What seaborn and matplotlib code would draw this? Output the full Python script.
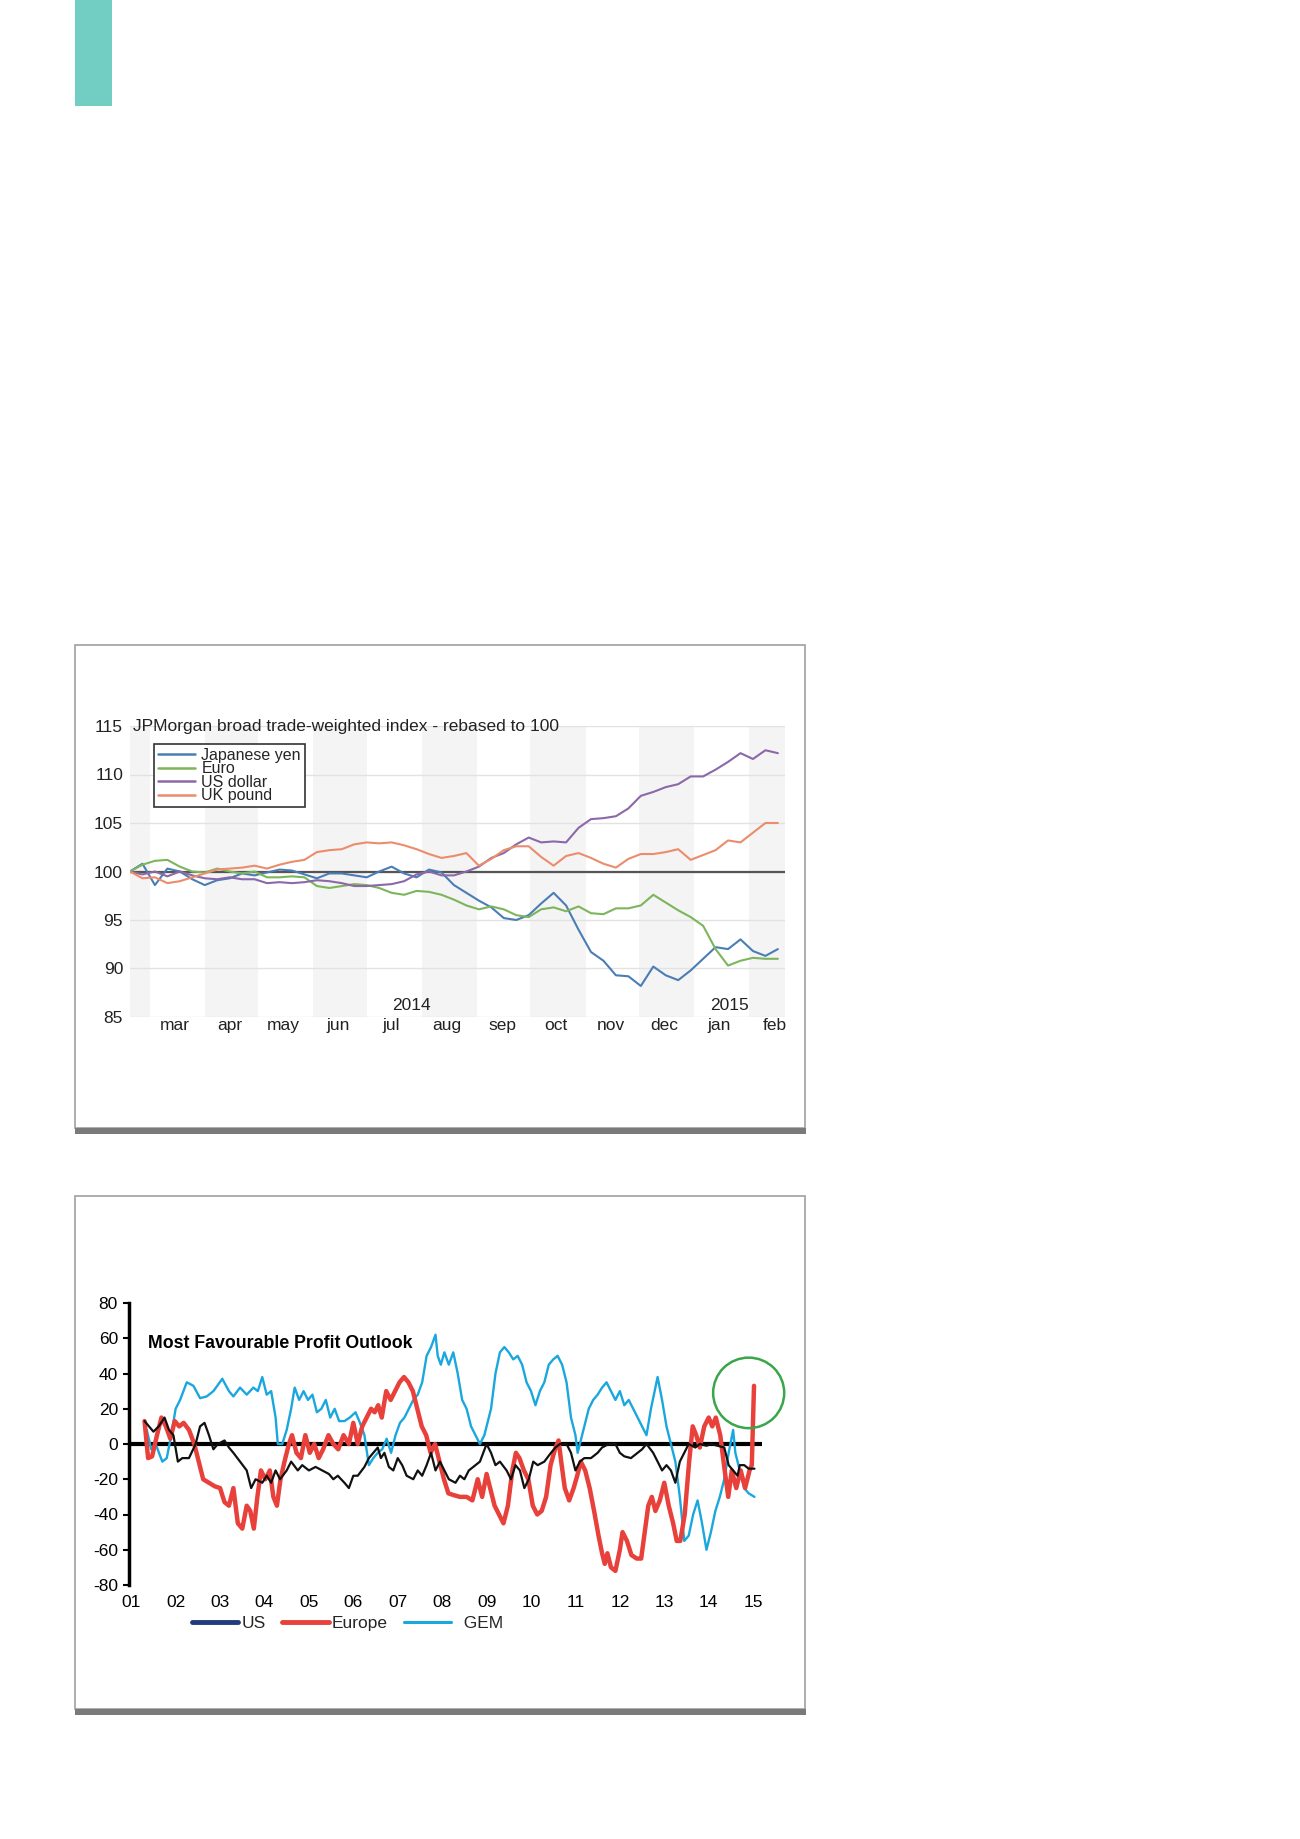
import pandas as pd
import matplotlib
matplotlib.use('Agg')
import matplotlib.pyplot as plt
import matplotlib.dates as mdates
from matplotlib.patches import Rectangle, Ellipse
from matplotlib.lines import Line2D
from matplotlib.ticker import FuncFormatter
import seaborn as sns

# ---- chart 1: JPMorgan trade-weighted indices, weekly readings ----
fx_start = '2014-02-18'
yen = [100, 100.8, 98.6, 100.3, 100, 99.2, 98.6, 99.1, 99.3, 99.8,
       99.6, 99.9, 100.2, 100.1, 99.7, 99.3, 99.8, 99.8, 99.6, 99.4,
       100, 100.5, 99.8, 99.4, 100.2, 99.9, 98.6, 97.8, 97, 96.3,
       95.2, 95, 95.5, 96.7, 97.8, 96.5, 94, 91.7, 90.8, 89.3,
       89.2, 88.2, 90.2, 89.3, 88.8, 89.8, 91, 92.2, 92, 93,
       91.8, 91.3, 92]
euro = [100, 100.7, 101.1, 101.2, 100.5, 100, 99.9, 100.3, 100, 99.8,
        100, 99.4, 99.4, 99.5, 99.4, 98.5, 98.3, 98.5, 98.7, 98.6,
        98.3, 97.8, 97.6, 98, 97.9, 97.6, 97.1, 96.5, 96.1, 96.4,
        96.1, 95.5, 95.3, 96.1, 96.3, 95.9, 96.4, 95.7, 95.6, 96.2,
        96.2, 96.5, 97.6, 96.8, 96, 95.3, 94.4, 92, 90.3, 90.8,
        91.1, 91, 91]
usd = [100, 99.7, 100, 99.5, 100, 99.6, 99.3, 99.2, 99.4, 99.2,
       99.2, 98.8, 98.9, 98.8, 98.9, 99.1, 99, 98.8, 98.5, 98.5,
       98.6, 98.7, 99, 99.7, 100, 99.6, 99.6, 100, 100.5, 101.4,
       101.9, 102.8, 103.5, 103, 103.1, 103, 104.5, 105.4, 105.5, 105.7,
       106.5, 107.8, 108.2, 108.7, 109, 109.8, 109.8, 110.5, 111.3, 112.2,
       111.6, 112.5, 112.2]
gbp = [100, 99.3, 99.4, 98.8, 99, 99.4, 99.8, 100.2, 100.3, 100.4,
       100.6, 100.3, 100.7, 101, 101.2, 102, 102.2, 102.3, 102.8, 103,
       102.9, 103, 102.7, 102.3, 101.8, 101.4, 101.6, 101.9, 100.6, 101.3,
       102.2, 102.6, 102.6, 101.5, 100.6, 101.6, 101.9, 101.4, 100.8, 100.4,
       101.3, 101.8, 101.8, 102, 102.3, 101.2, 101.7, 102.2, 103.2, 103,
       104, 105, 105]
fx_names = ['Japanese yen', 'Euro', 'US dollar', 'UK pound']
fx_colors = ['#4a7db5', '#7cb55b', '#8b68a8', '#eb8c6c']
shaded_months = ['2014-02-01', '2014-04-01', '2014-06-01', '2014-08-01',
                 '2014-10-01', '2014-12-01', '2015-02-01']
fx_yticks = [85, 90, 95, 100, 105, 110, 115]

# ---- chart 2: most favourable profit outlook (year, net %) ----
us = [(2001.30, 13), (2001.40, 10), (2001.50, 7), (2001.62, 10), (2001.75, 15),
      (2001.85, 8), (2001.95, 5), (2002.05, -10), (2002.15, -8), (2002.30, -8),
      (2002.45, 0), (2002.55, 10), (2002.65, 12), (2002.75, 5), (2002.85, -3),
      (2002.95, 0), (2003.10, 2), (2003.20, -2), (2003.30, -5), (2003.45, -10),
      (2003.60, -15), (2003.70, -25), (2003.80, -20), (2003.95, -22), (2004.05, -18),
      (2004.15, -22), (2004.25, -15), (2004.35, -20), (2004.50, -15), (2004.60, -10),
      (2004.75, -15), (2004.85, -12), (2005.00, -15), (2005.15, -13), (2005.30, -15),
      (2005.45, -17), (2005.55, -20), (2005.65, -18), (2005.80, -22), (2005.90, -25),
      (2006.00, -18), (2006.10, -18), (2006.25, -13), (2006.35, -8), (2006.45, -5),
      (2006.55, -2), (2006.62, -8), (2006.70, -5), (2006.80, -13), (2006.90, -15),
      (2007.00, -8), (2007.10, -12), (2007.20, -18), (2007.35, -20), (2007.45, -15),
      (2007.55, -18), (2007.65, -12), (2007.75, -5), (2007.85, -15), (2007.95, -10),
      (2008.05, -15), (2008.15, -20), (2008.30, -22), (2008.40, -18), (2008.50, -20),
      (2008.60, -15), (2008.75, -12), (2008.85, -10), (2009.00, 0), (2009.10, -5),
      (2009.20, -12), (2009.30, -10), (2009.45, -15), (2009.55, -20), (2009.65, -12),
      (2009.75, -15), (2009.85, -25), (2009.95, -20), (2010.05, -10), (2010.15, -12),
      (2010.30, -10), (2010.45, -5), (2010.55, -2), (2010.65, 0), (2010.80, 0),
      (2010.90, -5), (2011.00, -15), (2011.10, -10), (2011.20, -8), (2011.35, -8),
      (2011.50, -5), (2011.60, -2), (2011.75, 0), (2011.90, 0), (2012.00, -5),
      (2012.10, -7), (2012.25, -8), (2012.40, -5), (2012.50, -3), (2012.60, 0),
      (2012.75, -5), (2012.85, -10), (2012.95, -15), (2013.05, -12), (2013.15, -15),
      (2013.25, -22), (2013.35, -10), (2013.45, -5), (2013.55, 0), (2013.70, -2),
      (2013.80, 0), (2013.95, -1), (2014.05, 0), (2014.20, -1), (2014.35, -2),
      (2014.45, -12), (2014.55, -15), (2014.65, -18), (2014.70, -12), (2014.80, -12),
      (2014.90, -14), (2015.03, -14)]
europe = [(2001.30, 13), (2001.38, -8), (2001.47, -7), (2001.58, 5), (2001.68, 15),
          (2001.78, 10), (2001.88, 3), (2001.98, 13), (2002.08, 10), (2002.18, 12),
          (2002.30, 8), (2002.42, 0), (2002.52, -10), (2002.62, -20), (2002.75, -22),
          (2002.88, -24), (2003.00, -25), (2003.10, -33), (2003.20, -35), (2003.30, -25),
          (2003.40, -45), (2003.50, -48), (2003.60, -35), (2003.68, -38), (2003.76, -48),
          (2003.84, -30), (2003.92, -15), (2004.02, -20), (2004.12, -15), (2004.20, -30),
          (2004.28, -35), (2004.36, -20), (2004.45, -10), (2004.55, 0), (2004.62, 5),
          (2004.72, -5), (2004.82, -8), (2004.92, 5), (2005.02, -5), (2005.12, 0),
          (2005.22, -8), (2005.32, -3), (2005.44, 5), (2005.55, 0), (2005.66, -3),
          (2005.78, 5), (2005.90, 0), (2006.00, 12), (2006.10, 0), (2006.20, 10),
          (2006.30, 15), (2006.40, 20), (2006.48, 18), (2006.56, 22), (2006.64, 15),
          (2006.74, 30), (2006.84, 25), (2006.94, 30), (2007.04, 35), (2007.14, 38),
          (2007.24, 35), (2007.34, 30), (2007.44, 20), (2007.54, 10), (2007.64, 5),
          (2007.74, -5), (2007.84, 0), (2007.94, -10), (2008.04, -20), (2008.14, -28),
          (2008.26, -29), (2008.40, -30), (2008.55, -30), (2008.68, -32), (2008.80, -20),
          (2008.90, -30), (2009.00, -17), (2009.08, -25), (2009.18, -35), (2009.28, -40),
          (2009.38, -45), (2009.48, -35), (2009.58, -15), (2009.66, -5), (2009.74, -8),
          (2009.84, -15), (2009.94, -20), (2010.04, -35), (2010.14, -40), (2010.24, -38),
          (2010.34, -30), (2010.44, -12), (2010.54, -3), (2010.62, 2), (2010.68, -10),
          (2010.76, -25), (2010.86, -32), (2010.96, -25), (2011.04, -18), (2011.12, -10),
          (2011.22, -15), (2011.32, -25), (2011.42, -38), (2011.52, -52), (2011.60, -62),
          (2011.66, -68), (2011.72, -62), (2011.80, -70), (2011.90, -72), (2012.00, -60),
          (2012.06, -50), (2012.16, -55), (2012.26, -63), (2012.38, -65), (2012.48, -65),
          (2012.56, -50), (2012.64, -35), (2012.72, -30), (2012.80, -38), (2012.90, -32),
          (2013.00, -22), (2013.10, -35), (2013.20, -45), (2013.28, -55), (2013.36, -55),
          (2013.46, -40), (2013.56, -10), (2013.64, 10), (2013.72, 5), (2013.80, -2),
          (2013.90, 10), (2014.00, 15), (2014.08, 10), (2014.16, 15), (2014.26, 5),
          (2014.36, -15), (2014.44, -30), (2014.52, -15), (2014.62, -25), (2014.72, -15),
          (2014.82, -25), (2014.92, -15), (2014.97, -12), (2015.02, 33)]
gem = [(2001.35, 8), (2001.45, -3), (2001.55, 0), (2001.70, -10), (2001.80, -8),
       (2001.90, 5), (2002.00, 20), (2002.10, 25), (2002.25, 35), (2002.40, 33),
       (2002.55, 26), (2002.70, 27), (2002.85, 30), (2003.05, 37), (2003.20, 30),
       (2003.30, 27), (2003.45, 32), (2003.60, 28), (2003.75, 32), (2003.85, 30),
       (2003.95, 38), (2004.05, 28), (2004.15, 30), (2004.25, 15), (2004.30, 0),
       (2004.40, 0), (2004.50, 8), (2004.60, 20), (2004.68, 32), (2004.78, 25),
       (2004.88, 30), (2004.98, 25), (2005.08, 28), (2005.18, 18), (2005.28, 20),
       (2005.38, 25), (2005.48, 15), (2005.58, 20), (2005.68, 13), (2005.80, 13),
       (2005.92, 15), (2006.05, 18), (2006.15, 12), (2006.25, 5), (2006.35, -12),
       (2006.45, -8), (2006.55, -5), (2006.65, -3), (2006.75, 3), (2006.85, -5),
       (2006.95, 5), (2007.05, 12), (2007.15, 15), (2007.25, 20), (2007.35, 25),
       (2007.45, 28), (2007.55, 35), (2007.65, 50), (2007.75, 55), (2007.85, 62),
       (2007.90, 50), (2007.97, 45), (2008.05, 52), (2008.15, 45), (2008.25, 52),
       (2008.35, 40), (2008.45, 25), (2008.55, 20), (2008.65, 10), (2008.75, 5),
       (2008.85, 0), (2008.95, 5), (2009.10, 20), (2009.20, 40), (2009.30, 52),
       (2009.40, 55), (2009.50, 52), (2009.60, 48), (2009.70, 50), (2009.80, 45),
       (2009.90, 35), (2010.00, 30), (2010.10, 22), (2010.20, 30), (2010.30, 35),
       (2010.40, 45), (2010.50, 48), (2010.60, 50), (2010.70, 45), (2010.80, 35),
       (2010.90, 15), (2011.00, 5), (2011.05, -5), (2011.15, 5), (2011.25, 15),
       (2011.30, 20), (2011.40, 25), (2011.50, 28), (2011.60, 32), (2011.70, 35),
       (2011.80, 30), (2011.90, 25), (2012.00, 30), (2012.10, 22), (2012.20, 25),
       (2012.30, 20), (2012.40, 15), (2012.50, 10), (2012.60, 5), (2012.70, 20),
       (2012.80, 32), (2012.85, 38), (2012.95, 25), (2013.05, 10), (2013.15, 0),
       (2013.25, -10), (2013.35, -30), (2013.45, -55), (2013.55, -52), (2013.65, -40),
       (2013.75, -32), (2013.85, -45), (2013.95, -60), (2014.05, -50), (2014.15, -38),
       (2014.25, -30), (2014.35, -20), (2014.45, -5), (2014.55, 8), (2014.60, -5),
       (2014.70, -15), (2014.80, -25), (2014.90, -28), (2015.03, -30)]
years = list(range(2001, 2016))
profit_yticks = [-80, -60, -40, -20, 0, 20, 40, 60, 80]

sns.set_theme(style='white')
plt.rcParams['font.family'] = ['Liberation Sans', 'DejaVu Sans']
plt.rcParams['axes.unicode_minus'] = False

W, H = 1300, 1839
fig = plt.figure(figsize=(W / 100, H / 100), dpi=100)


def box(x0, y0, w, h):
    # pixel box (top-left origin) -> figure fraction rect
    return [x0 / W, 1 - (y0 + h) / H, w / W, h / H]


# page decorations
r = box(75, 0, 37, 106)
fig.add_artist(Rectangle(r[:2], r[2], r[3], transform=fig.transFigure, color='#72cec2', lw=0))
for top, bottom in [(645, 1128), (1196, 1709)]:
    r = box(75, top, 730, bottom - top)
    fig.add_artist(Rectangle(r[:2], r[2], r[3], transform=fig.transFigure,
                             fill=False, edgecolor='#a0a0a0', lw=1.2))
    r = box(75, bottom, 731, 6)
    fig.add_artist(Rectangle(r[:2], r[2], r[3], transform=fig.transFigure,
                             color='#7a7a7a', lw=0))

# ---------------- chart 1 ----------------
ax1 = fig.add_axes(box(130, 726, 655, 291))
dates = pd.date_range(fx_start, periods=len(yen), freq='7D')
fx = pd.DataFrame({'date': dates, fx_names[0]: yen, fx_names[1]: euro,
                   fx_names[2]: usd, fx_names[3]: gbp})
fx = fx.melt('date', var_name='series', value_name='index')

for m in shaded_months:
    s = pd.Timestamp(m)
    ax1.axvspan(s, s + pd.offsets.MonthBegin(1), color='#f4f4f4', lw=0, zorder=0)
for t in fx_yticks:
    ax1.axhline(t, color='#e2e2e2', lw=1.0, zorder=0.5)
ax1.axhline(100, color='#555555', lw=1.6, zorder=1)

sns.lineplot(data=fx, x='date', y='index', hue='series', hue_order=fx_names,
             palette=fx_colors, linewidth=1.5, legend=False, ax=ax1, zorder=2)

ax1.set_xlim(pd.Timestamp('2014-02-18'), pd.Timestamp('2015-02-21'))
ax1.set_ylim(85, 115)
ax1.set_yticks(fx_yticks)
ax1.set_xlabel('')
ax1.set_ylabel('')
for sp in ax1.spines.values():
    sp.set_visible(False)
ax1.xaxis.set_major_locator(mdates.MonthLocator(bymonthday=15))
ax1.xaxis.set_major_formatter(FuncFormatter(lambda v, p: mdates.num2date(v).strftime('%b').lower()))
ax1.tick_params(axis='x', length=0, pad=1, labelsize=12.5, labelcolor='#222222')
ax1.tick_params(axis='y', length=0, pad=5, labelsize=12.5, labelcolor='#222222')
ax1.text(pd.Timestamp('2014-07-26'), 86.2, '2014', ha='center', va='center',
         fontsize=12.5, color='#222222')
ax1.text(pd.Timestamp('2015-01-21'), 86.2, '2015', ha='center', va='center',
         fontsize=12.5, color='#222222')
ax1.text(0.004, 1.0, 'JPMorgan broad trade-weighted index - rebased to 100',
         transform=ax1.transAxes, ha='left', va='center', fontsize=12.5, color='#222222')
handles = [Line2D([], [], color=c, lw=1.8) for c in fx_colors]
leg = ax1.legend(handles, fx_names, loc='upper left', bbox_to_anchor=(0.037, 0.938),
                 fontsize=11.5, frameon=True, fancybox=False, framealpha=1,
                 edgecolor='#333333', borderpad=0.25, labelspacing=-0.1,
                 handlelength=2.3, handletextpad=0.4, borderaxespad=0)
leg.get_frame().set_linewidth(1.2)

# ---------------- chart 2 ----------------
ax2 = fig.add_axes(box(129, 1303, 633, 282))
ax2.axhline(0, color='black', lw=3, zorder=1.5)
series2 = [('GEM', gem, '#1aa7de', 1.7), ('Europe', europe, '#e8403a', 3.2),
           ('US', us, '#111111', 1.6)]
for name, pts, col, lw in series2:
    d = pd.DataFrame(pts, columns=['year', 'value'])
    sns.lineplot(data=d, x='year', y='value', color=col, linewidth=lw, ax=ax2,
                 zorder=2, legend=False)

ax2.set_xlim(2000.95, 2015.2)
ax2.set_ylim(-80, 80)
ax2.set_xticks(years)
ax2.set_xticklabels(['%02d' % (y % 100) for y in years])
ax2.set_yticks(profit_yticks)
ax2.set_xlabel('')
ax2.set_ylabel('')
for k in ['top', 'right', 'bottom']:
    ax2.spines[k].set_visible(False)
ax2.spines['left'].set_color('black')
ax2.spines['left'].set_linewidth(2.5)
ax2.tick_params(axis='x', length=0, pad=7, labelsize=12.5, labelcolor='black')
ax2.tick_params(axis='y', direction='out', length=4, width=1.5, color='black',
                left=True, pad=4, labelsize=12.5, labelcolor='black')
ax2.text(2001.38, 57, 'Most Favourable Profit Outlook', ha='left', va='center',
         fontsize=12.8, fontweight='bold', color='black')
ax2.add_patch(Ellipse((2014.9, 29), width=1.6, height=40, fill=False,
                      edgecolor='#3aa64a', lw=1.8, clip_on=False, zorder=3))
h2 = [Line2D([], [], color='#233a7c', lw=3.5), Line2D([], [], color='#e8403a', lw=3.5),
      Line2D([], [], color='#1aa7de', lw=2.2)]
ax2.legend(h2, ['US', 'Europe', '  GEM'], loc='center', bbox_to_anchor=(0.345, -0.135),
           ncol=3, frameon=False, fontsize=12.5, handlelength=2.7,
           handletextpad=0.2, columnspacing=0.9, borderaxespad=0)

fig.savefig('out.png', dpi=100)
